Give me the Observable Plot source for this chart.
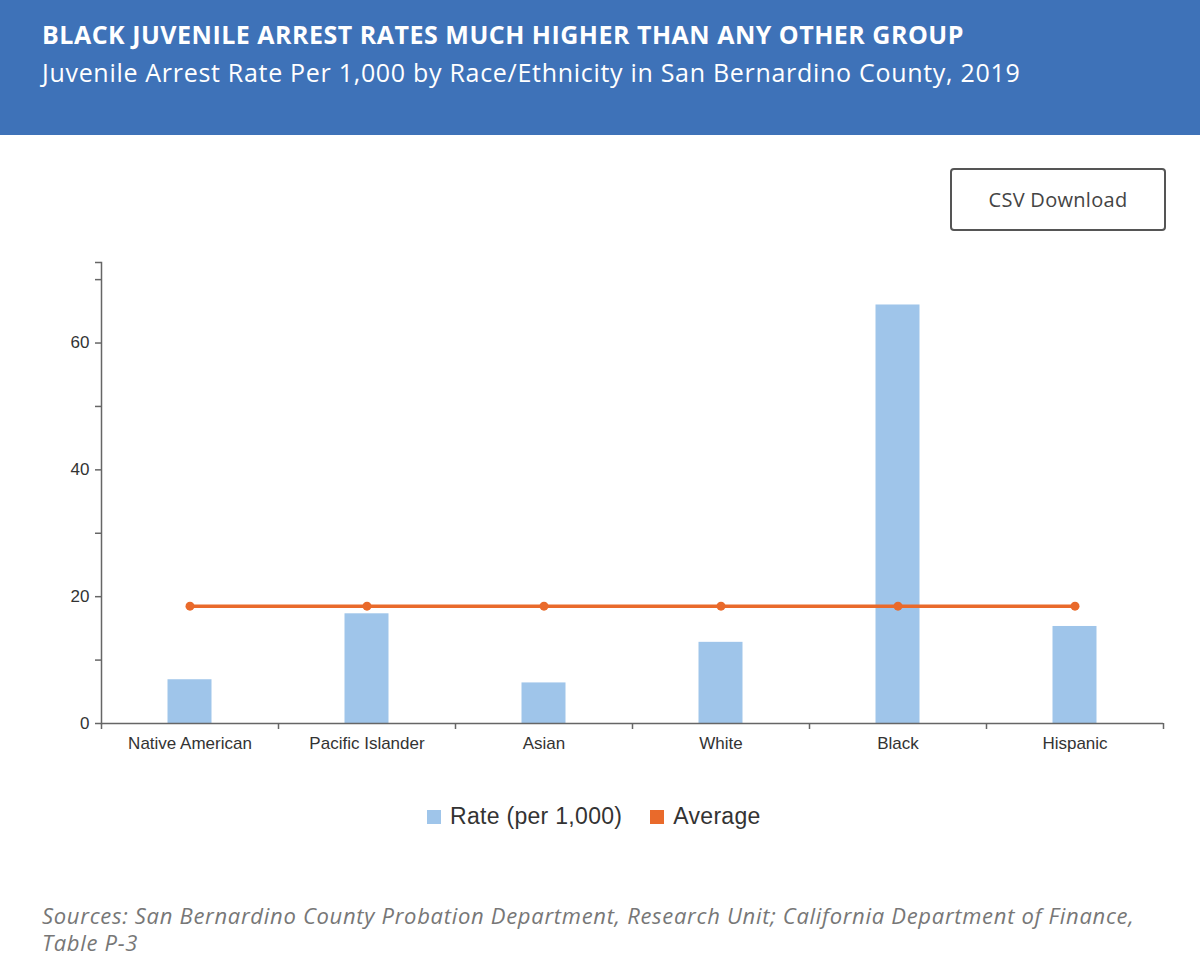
<!DOCTYPE html>
<html>
<head>
<meta charset="utf-8">
<script src="https://cdn.jsdelivr.net/npm/d3@7"></script>
<script src="https://cdn.jsdelivr.net/npm/@observablehq/plot@0.6"></script>
<style>
  html, body { margin: 0; padding: 0; background: #fff; width: 1200px; height: 980px; overflow: hidden; }
  #header { position: absolute; left: 0; top: 0; width: 1200px; height: 135px; background: #3e72b8; }
  #title { position: absolute; left: 42px; top: 17px; font: bold 25px "Open Sans", sans-serif; color: #fff; letter-spacing: 0.5px; white-space: nowrap; }
  #subtitle { position: absolute; left: 42px; top: 55px; font: 25px "Open Sans", sans-serif; color: #fff; letter-spacing: 0.7px; white-space: nowrap; }
  #btn { position: absolute; left: 950px; top: 168px; width: 212px; height: 59px; border: 2px solid #555; border-radius: 4px; box-sizing: content-box; font: 20px "Open Sans", sans-serif; color: #444; letter-spacing: 0.3px; display: flex; align-items: center; justify-content: center; }
  #chart { position: absolute; left: 0; top: 240px; }
  #legend { position: absolute; left: 427px; top: 803px; display: flex; align-items: center; font: 23px "Liberation Sans", Arial, sans-serif; color: #333; letter-spacing: 0.3px; }
  .sw { display: inline-block; width: 14px; height: 14px; margin-right: 9px; }
  .item { display: flex; align-items: center; margin-right: 28px; }
  #caption { position: absolute; left: 42px; top: 902px; width: 1120px; font: italic 22px "Open Sans", sans-serif; color: #777; line-height: 27px; letter-spacing: 0.7px; }
</style>
</head>
<body>
<div id="header">
  <div id="title">BLACK JUVENILE ARREST RATES MUCH HIGHER THAN ANY OTHER GROUP</div>
  <div id="subtitle">Juvenile Arrest Rate Per 1,000 by Race/Ethnicity in San Bernardino County, 2019</div>
</div>
<div id="btn">CSV Download</div>
<div id="chart"></div>
<div id="legend"></div>
<div id="caption">Sources: San Bernardino County Probation Department, Research Unit; California Department of Finance, Table P-3</div>
<script>
const categories = ["Native American", "Pacific Islander", "Asian", "White", "Black", "Hispanic"];
const rates = [6.9, 17.3, 6.4, 12.8, 66.0, 15.3];
const average = [18.5, 18.5, 18.5, 18.5, 18.5, 18.5];
const majorTicks = [0, 20, 40, 60];
const minorTicks = [10, 30, 50, 70];
const seriesNames = ["Rate (per 1,000)", "Average"];
const seriesColors = ["#9fc5ea", "#e96a2b"];

const yMax = 72.7;
const data = categories.map((c, i) => ({category: c, rate: rates[i], average: average[i]}));

const width = 1200, height = 520;
const marginLeft = 101, marginRight = 37, marginTop = 22, marginBottom = 37;
const band = (width - marginLeft - marginRight) / categories.length;
const barWidth = 44;
const axisColor = "#666";

const chart = Plot.plot({
  width, height, marginLeft, marginRight, marginTop, marginBottom,
  style: {fontFamily: "'Liberation Sans', Arial, sans-serif", fontSize: "17px", color: "#333", background: "#fff"},
  x: {domain: categories, padding: 0},
  y: {domain: [0, yMax]},
  marks: [
    Plot.barY(data, {x: "category", y: "rate", fill: seriesColors[0], insetLeft: (band - barWidth) / 2, insetRight: (band - barWidth) / 2}),
    Plot.ruleY([0], {stroke: axisColor, strokeWidth: 1.5}),
    Plot.frame({anchor: "left", stroke: axisColor, strokeWidth: 1.5}),
    Plot.ruleX(categories, {x: d => d, dx: -band / 2, y1: () => 0, y2: () => 0, insetBottom: -6, stroke: axisColor, strokeWidth: 1.5}),
    Plot.ruleX([categories[categories.length - 1]], {x: d => d, dx: band / 2, y1: () => 0, y2: () => 0, insetBottom: -6, stroke: axisColor, strokeWidth: 1.5}),
    Plot.axisX({tickSize: 0, tickPadding: 13, fontSize: 17, label: null, fill: "#333"}),
    Plot.axisY({ticks: majorTicks, tickSize: 6, tickPadding: 6, fontSize: 17, label: null, stroke: axisColor, fill: "#333", strokeWidth: 1.5}),
    Plot.axisY({ticks: [...minorTicks, yMax], tickSize: 6, tickFormat: () => "", label: null, stroke: axisColor, strokeWidth: 1.5}),
    Plot.line(data, {x: "category", y: "average", stroke: seriesColors[1], strokeWidth: 3.5}),
    Plot.dot(data, {x: "category", y: "average", r: 4.5, fill: seriesColors[1]})
  ]
});
document.getElementById("chart").appendChild(chart);

const legend = document.getElementById("legend");
seriesNames.forEach((name, i) => {
  const item = document.createElement("div");
  item.className = "item";
  item.innerHTML = `<span class="sw" style="background:${seriesColors[i]}"></span><span>${name}</span>`;
  legend.appendChild(item);
});
</script>
</body>
</html>
